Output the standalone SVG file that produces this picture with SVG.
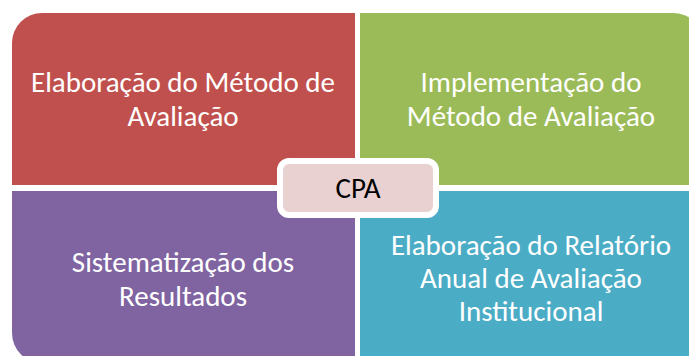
<svg xmlns="http://www.w3.org/2000/svg" width="689" height="356" viewBox="0 0 689 356">
<style>
.q{font-family:"Carlito","Liberation Sans",sans-serif;font-size:29px;fill:#fff;text-anchor:middle}
.c{font-family:"Carlito","Liberation Sans",sans-serif;font-size:29px;fill:#000;text-anchor:middle}
</style>
<rect width="689" height="356" fill="#fff"/>
<g id="q1">
<path d="M12,43 A30,30 0 0 1 42,13 H355 V185 H12 Z" fill="#C0504D"/>
<text class="q" x="183" y="92">Elaboração do Método de</text>
<text class="q" x="183" y="126">Avaliação</text>
</g>
<g id="q2">
<path d="M360,13 H673 A30,30 0 0 1 703,43 V185 H360 Z" fill="#9BBB59"/>
<text class="q" x="531" y="92">Implementação do</text>
<text class="q" x="531" y="126">Método de Avaliação</text>
</g>
<g id="q3">
<path d="M12,191 H355 V363 H42 A30,30 0 0 1 12,333 Z" fill="#8064A2"/>
<text class="q" x="183" y="272">Sistematização dos</text>
<text class="q" x="183" y="306">Resultados</text>
</g>
<g id="q4">
<path d="M360,191 H703 V363 H360 Z" fill="#4BACC6"/>
<text class="q" x="531" y="255">Elaboração do Relatório</text>
<text class="q" x="531" y="288">Anual de Avaliação</text>
<text class="q" x="531" y="321">Institucional</text>
</g>
<g id="cpa">
<rect x="280" y="161" width="156" height="54" rx="9" fill="#E9D1D1" stroke="#fff" stroke-width="6"/>
<text class="c" x="358" y="198">CPA</text>
</g>
<g id="connectors"/>
</svg>
